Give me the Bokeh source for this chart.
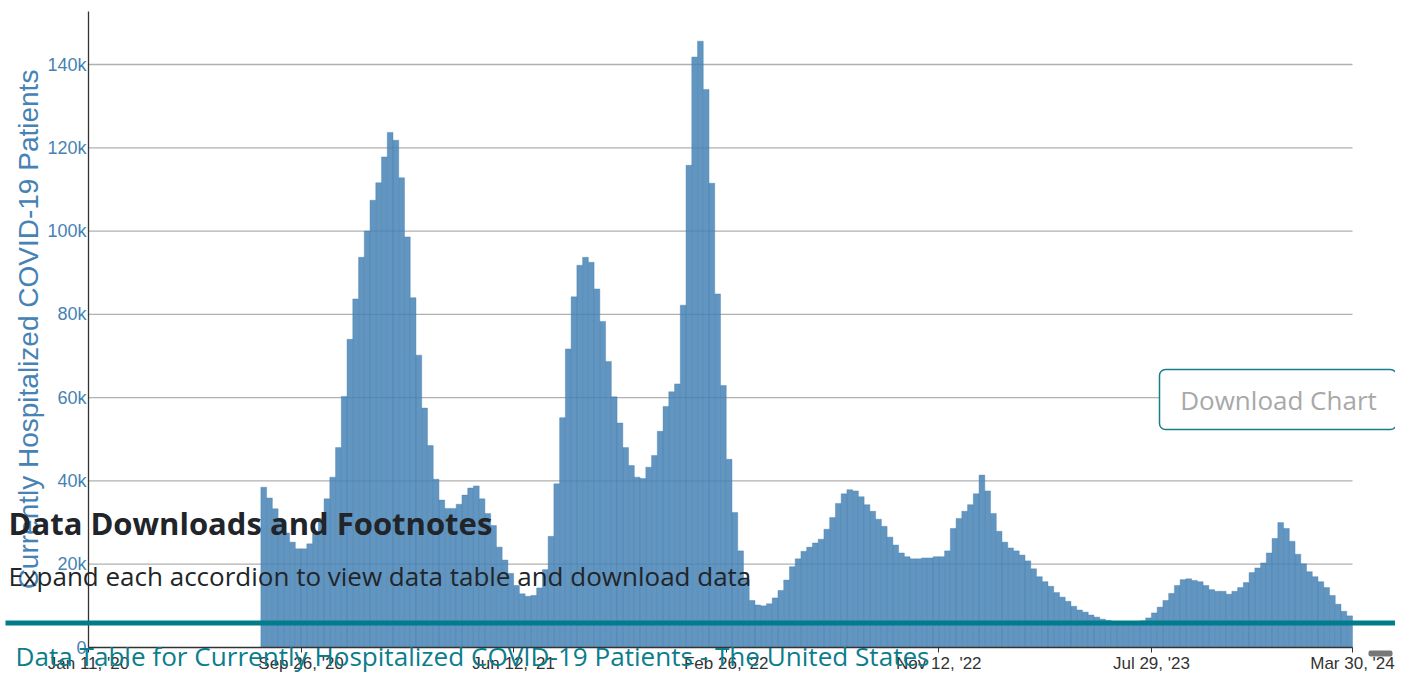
import pandas as pd
from bokeh.plotting import figure
from bokeh.models import (Range1d, FixedTicker, DatetimeTickFormatter, Label,
                          BoxAnnotation, ColumnDataSource)
from bokeh.embed import file_html
from bokeh.resources import INLINE

# ---------------- data ----------------
first_week_ending = "2020-08-15"
n_weeks = 190
# Currently hospitalized COVID-19 patients, weekly (thousands)
hospitalized_k = [
    38.5, 35.9, 33.3, 30.7, 27.5, 25.3, 23.7, 23.7, 24.9, 27.3,
    31.0, 35.7, 40.9, 48.0, 60.3, 74.0, 83.7, 93.7, 100.0, 107.4,
    111.6, 117.8, 123.7, 121.8, 112.8, 98.6, 84.0, 70.2, 57.5, 48.5,
    40.4, 35.4, 33.4, 33.4, 34.4, 36.6, 38.3, 38.8, 35.7, 32.2,
    29.3, 24.1, 21.0, 17.8, 14.9, 12.9, 12.3, 12.5, 14.3, 18.7,
    26.7, 39.3, 55.2, 71.7, 84.2, 91.8, 93.7, 92.5, 86.1, 78.3,
    68.7, 60.2, 53.9, 48.0, 43.7, 40.9, 40.6, 43.3, 46.1, 51.9,
    57.9, 61.4, 63.3, 82.2, 115.8, 141.8, 145.6, 134.0, 111.5, 84.9,
    62.9, 45.2, 32.4, 23.2, 16.4, 11.3, 10.2, 10.0, 10.5, 11.9,
    13.7, 16.2, 19.4, 21.3, 23.1, 24.1, 25.1, 26.0, 28.4, 31.2,
    34.6, 36.9, 37.9, 37.6, 36.2, 34.3, 32.7, 30.8, 29.1, 26.5,
    24.6, 22.7, 21.8, 21.3, 21.3, 21.5, 21.5, 21.8, 21.8, 23.2,
    28.6, 31.0, 32.7, 34.3, 36.9, 41.4, 37.6, 32.2, 27.9, 25.3,
    23.9, 23.2, 22.2, 20.8, 18.9, 17.0, 15.8, 14.7, 13.2, 12.1,
    11.1, 9.9, 9.0, 8.5, 7.8, 7.3, 6.8, 6.5, 6.1, 5.9,
    5.8, 5.9, 6.1, 6.4, 7.1, 8.3, 9.7, 11.3, 13.0, 14.9,
    16.3, 16.5, 16.1, 15.8, 14.9, 13.9, 13.5, 13.5, 12.8, 13.5,
    14.4, 15.6, 18.0, 19.1, 20.3, 22.7, 26.2, 30.0, 28.6, 25.5,
    22.4, 20.1, 18.2, 17.0, 15.8, 14.4, 12.5, 10.4, 8.7, 7.6,
]

x_tick_dates = ["2020-01-11", "2020-09-26", "2021-06-12", "2022-02-26",
                "2022-11-12", "2023-07-29", "2024-03-30"]
x_tick_labels = ["Jan 11, '20", "Sep 26, '20", "Jun 12, '21", "Feb 26, '22",
                 "Nov 12, '22", "Jul 29, '23", "Mar 30, '24"]
y_ticks = [0, 20000, 40000, 60000, 80000, 100000, 120000, 140000]
y_tick_labels = ["0", "20k", "40k", "60k", "80k", "100k", "120k", "140k"]
y_axis_title = "Currently Hospitalized COVID-19 Patients"
y_axis_top = 152800

heading = "Data Downloads and Footnotes"
subheading = "Expand each accordion to view data table and download data"
table_link = "Data Table for Currently Hospitalized COVID-19 Patients - The United States"
button_text = "Download Chart"

# ---------------- layout (pixels within the figure) ----------------
W, H = 1395, 672
AX_LEFT, AX_RIGHT = 88, 1352      # pixel of first / last x tick
AX_ZERO, AX_140K = 647, 64        # pixel of y = 0 and y = 140k

def ms(d):
    return pd.Timestamp(d).value / 1e6

x0_ms, x1_ms = ms(x_tick_dates[0]), ms(x_tick_dates[-1])
ms_per_px = (x1_ms - x0_ms) / (AX_RIGHT - AX_LEFT)
val_per_px = 140000 / (AX_ZERO - AX_140K)
x_range = Range1d(x0_ms - AX_LEFT * ms_per_px, x1_ms + (W - AX_RIGHT) * ms_per_px)
y_range = Range1d(-(H - AX_ZERO) * val_per_px, 140000 + AX_140K * val_per_px)

# ---------------- build ----------------
week_end = pd.date_range(first_week_ending, periods=n_weeks, freq="7D")
week_start = week_end - pd.Timedelta(days=7)
values = [v * 1000 for v in hospitalized_k]
src = ColumnDataSource(dict(left=week_start, right=week_end, top=values))

p = figure(width=W, height=H, x_axis_type="datetime",
           output_backend="svg", toolbar_location=None, title=None,
           x_range=x_range, y_range=y_range,
           min_border_left=0, min_border_right=0,
           min_border_top=0, min_border_bottom=0)
p.outline_line_color = None
p.background_fill_color = "white"
p.border_fill_color = "white"
p.xgrid.visible = False
p.ygrid.visible = False

# horizontal grid lines limited to the axis extent
grid_y = y_ticks[1:]
p.segment(x0=[x0_ms] * len(grid_y), x1=[x1_ms] * len(grid_y),
          y0=grid_y, y1=grid_y, line_color="#b0b0b0", line_width=1.3,
          level="underlay")

p.quad(left="left", right="right", bottom=0, top="top", source=src,
       fill_color="#4682b4", fill_alpha=0.85,
       line_color="#4682b4", line_width=0.5, line_alpha=0.8)

TICK_FONT = "Liberation Sans"

yax = p.yaxis[0]
yax.fixed_location = x0_ms
yax.bounds = (-1, y_axis_top)
yax.ticker = FixedTicker(ticks=y_ticks)
yax.major_label_overrides = dict(zip(y_ticks, y_tick_labels))
yax.major_tick_out = 0
yax.major_tick_in = 0
yax.minor_tick_out = 0
yax.minor_tick_in = 0
yax.axis_line_color = "#333333"
yax.axis_line_width = 1.3
yax.major_label_standoff = 2
yax.major_label_text_font = TICK_FONT
yax.major_label_text_font_size = "18px"
yax.major_label_text_color = "#4682b4"
yax.axis_label = y_axis_title
yax.axis_label_text_font = TICK_FONT
yax.axis_label_text_font_style = "normal"
yax.axis_label_text_font_size = "28px"
yax.axis_label_text_color = "#4682b4"
yax.axis_label_standoff = 0

xax = p.xaxis[0]
xax.fixed_location = 0
xax.bounds = (x0_ms - 1000, x1_ms + 1000)
xax.ticker = FixedTicker(ticks=[ms(d) for d in x_tick_dates])
fmt = "%b %d, '%y"
xax.formatter = DatetimeTickFormatter(days=fmt, months=fmt, years=fmt)
xax.major_label_overrides = dict(zip([ms(d) for d in x_tick_dates], x_tick_labels))
xax.major_tick_out = 5
xax.major_tick_in = 0
xax.minor_tick_out = 0
xax.minor_tick_in = 0
xax.axis_line_color = "#333333"
xax.axis_line_width = 1.3
xax.major_tick_line_color = "#333333"
xax.major_label_standoff = 1
xax.major_label_text_font = TICK_FONT
xax.major_label_text_font_size = "17px"
xax.major_label_text_color = "#333333"

# ---------------- page overlays (screen units, figure == frame) ----------------
def sx(X):
    return X

def sy(Y):
    return H - Y

def box(l, t, r, b, **kw):
    return BoxAnnotation(left=sx(l), right=sx(r), top=sy(t), bottom=sy(b),
                         left_units="screen", right_units="screen",
                         top_units="screen", bottom_units="screen", **kw)

p.add_layout(box(5, 620, 1395, 625, fill_color="#007c8c", fill_alpha=1,
                 line_alpha=0))
p.add_layout(box(1159, 369, 1396, 429, fill_color="white", fill_alpha=1,
                 line_color="#197d8b", line_alpha=1, line_width=1.5,
                 border_radius=6))
p.add_layout(box(1368, 650, 1392, 656, fill_color="#777777", fill_alpha=1,
                 line_alpha=0, border_radius=2))

def lab(X, Y, text, size, color, style="normal", align="left"):
    return Label(x=sx(X), y=sy(Y), x_units="screen", y_units="screen",
                 text=text, text_font="Open Sans", text_font_size=size,
                 text_font_style=style, text_color=color,
                 text_align=align, text_baseline="middle")

p.add_layout(lab(1278, 399, button_text, "26px", "#a8a8a8", align="center"))
p.add_layout(lab(8, 522, heading, "31px", "#212529", style="bold"))
p.add_layout(lab(8, 575, subheading, "26px", "#212529"))
p.add_layout(lab(15, 655, table_link, "26.1px", "#0b7d8d"))

open("out.html", "w").write(file_html(p, INLINE))
